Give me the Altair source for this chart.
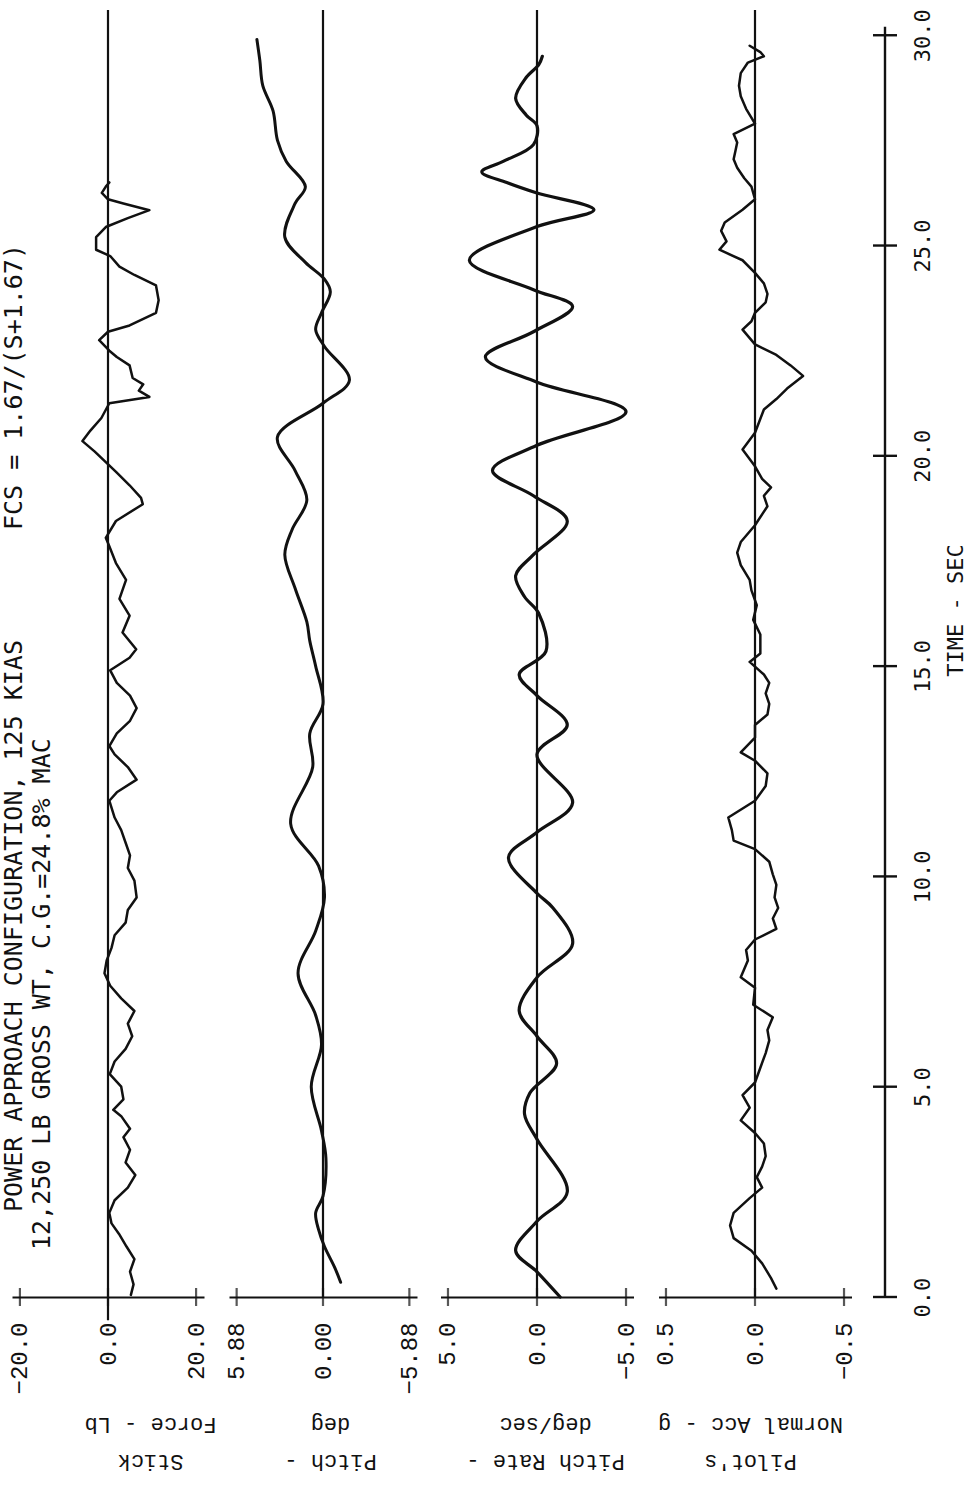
import altair as alt
import pandas as pd

# ---------------- values ----------------
time_ticks = [0, 5, 10, 15, 20, 25, 30]
stick_ticks = [-20.0, 0.0, 20.0]
pitch_ticks = [5.88, 0.0, -5.88]
rate_ticks = [5.0, 0.0, -5.0]
acc_ticks = [0.5, 0.0, -0.5]

stick_t = [0.05, 0.3, 0.6, 0.9, 1.2, 1.5, 1.75, 2.0, 2.3, 2.6, 2.9, 3.2, 3.5, 3.8, 4.0, 4.3, 4.45,
           4.7, 5.0, 5.3, 5.6, 5.9, 6.2, 6.5, 6.8, 7.1, 7.4, 7.7, 8.0, 8.3, 8.6, 8.9, 9.2, 9.5, 9.9,
           10.2, 10.5, 10.8, 11.1, 11.4, 11.8, 12.0, 12.3, 12.6, 12.9, 13.1, 13.4, 13.7, 14.0, 14.3,
           14.6, 14.9, 15.2, 15.4, 15.8, 16.2, 16.6, 17.05, 17.45, 17.85, 18.05, 18.45, 18.85, 19.0,
           19.3, 19.6, 19.85, 20.1, 20.35, 20.6, 20.9, 21.25, 21.4, 21.55, 21.7, 21.85, 22.15, 22.35,
           22.5, 22.75, 22.95, 23.1, 23.4, 23.7, 24.05, 24.3, 24.5, 24.75, 24.9, 25.2, 25.44, 25.65,
           25.84, 26.0, 26.1, 26.25, 26.4, 26.5]
stick_lb = [5.2, 5.8, 5.0, 6.0, 4.2, 2.5, 0.8, 0.3, 1.5, 4.5, 6.2, 4.0, 5.0, 3.5, 5.0, 3.0, 1.2,
            3.5, 3.0, 0.4, 1.5, 4.0, 5.5, 4.5, 6.0, 3.0, 0.5, -0.8, -0.3, 0.8, 1.5, 4.0, 4.5, 6.5, 6.0,
            4.5, 5.0, 4.0, 3.0, 1.5, 0.3, 2.0, 6.5, 4.5, 1.5, 0.3, 2.0, 5.0, 6.5, 5.0,
            2.0, 0.5, 4.9, 6.4, 3.3, 4.9, 2.6, 4.1, 1.8, 0.3, -0.5, 1.8, 7.9, 7.5,
            4.9, 2.0, -0.5, -3.0, -5.8, -4.0, -1.5, 0.3, 9.4, 7.0, 8.0, 5.6, 4.9, 2.0,
            0.3, -2.0, 0.0, 4.9, 10.9, 11.5, 10.9, 6.0, 2.6, 0.5, -2.7, -2.7, -0.5, 4.5,
            9.4, 3.5, 0.0, -1.4, -0.5, 0.3]

pitch_t = [0.35, 0.7, 1.2, 1.6, 2.0, 2.4, 3.3, 3.95, 5.0, 6.0, 6.7, 7.7, 8.7, 9.5, 10.25, 11.25,
           12.6, 13.4, 14.1, 15.0, 15.6, 16.05, 16.85, 17.65, 18.25, 18.95, 19.65, 20.45, 21.25,
           21.8, 22.6, 23.0, 23.4, 23.9, 24.2, 24.6, 25.2, 26.0, 26.4, 27.0, 27.5, 28.2, 28.8,
           29.4, 29.9]
pitch_deg = [-1.2, -0.8, -0.1, 0.3, 0.5, 0.0, -0.2, 0.1, 0.8, 0.1, 0.5, 1.7, 0.5, -0.1, 0.3, 2.2,
             0.7, 0.9, 0.0, 0.5, 0.9, 1.1, 1.9, 2.6, 2.1, 1.1, 1.9, 3.1, 0.0,
             -1.8, -0.1, 0.5, 0.1, -0.5, -0.1, 1.2, 2.6, 1.9, 1.2, 2.5, 3.1, 3.4, 4.1,
             4.3, 4.5]

rate_t = [0.0, 0.6, 1.1, 1.8, 2.5, 3.75, 4.35, 4.85, 5.55, 6.2, 6.8, 7.6, 8.4, 9.25, 9.6, 10.45,
          11.05, 11.75, 12.9, 13.6, 14.3, 14.8, 15.35, 16.25, 16.65, 17.15, 17.65, 18.45, 19.05,
          19.65, 20.25, 21.05, 21.75, 22.35, 22.95, 23.55, 23.95, 24.65, 25.45, 25.85, 26.25,
          26.5, 26.75, 27.0, 27.4, 27.85, 28.1, 28.5, 29.0, 29.3, 29.5]
rate_dps = [-1.3, 0.0, 1.2, 0.0, -1.7, 0.0, 0.7, 0.4, -1.1, 0.0, 1.0, 0.0, -2.0, -0.9, 0.0, 1.6,
            0.0, -2.0, 0.0, -1.7, 0.0, 1.0, -0.5, -0.1, 0.7, 1.2, 0.2, -1.7, 0.2,
            2.5, 0.0, -5.0, 0.0, 2.9, 0.2, -2.0, 0.2, 3.8, 0.0, -3.2, 0.0,
            1.7, 3.1, 1.9, 0.2, 0.0, 0.6, 1.2, 0.6, -0.1, -0.3]

acc_t = [0.2, 0.45, 0.8, 1.1, 1.4, 1.7, 2.0, 2.35, 2.6, 2.85,
         3.1, 3.35, 3.65, 3.9, 4.2, 4.5, 4.8, 5.1, 5.45, 5.8,
         6.1, 6.35, 6.65, 6.95, 7.35, 7.6, 8.0, 8.25, 8.5, 8.75,
         9.0, 9.25, 9.5, 9.8, 10.05, 10.35, 10.65, 10.85, 11.1, 11.4,
         11.8, 12.15, 12.45, 12.75, 12.95, 13.3, 13.6, 13.85, 14.1, 14.35,
         14.6, 14.8, 15.1, 15.3, 15.75, 16.1, 16.45, 16.8, 17.05, 17.4,
         17.7, 17.95, 18.35, 18.8, 19.05, 19.25, 19.45, 19.75, 20.15, 20.55,
         21.1, 21.35, 21.6, 21.9, 22.15, 22.4, 22.65, 23.0, 23.2, 23.4,
         23.65, 23.85, 24.1, 24.35, 24.65, 24.9, 25.1, 25.35, 25.55, 25.85,
         26.1, 26.4, 26.6, 26.85, 27.05, 27.25, 27.45, 27.65, 27.9, 28.25,
         28.55, 28.8, 29.1, 29.35, 29.5, 29.6, 29.75]
acc_g = [-0.12, -0.09, -0.04, 0.02, 0.12, 0.14, 0.12, 0.03, -0.04, -0.01,
         -0.04, -0.06, -0.05, 0.0, 0.08, 0.03, 0.07, 0.0, -0.03, -0.06,
         -0.08, -0.07, -0.10, 0.01, 0.0, 0.08, 0.04, 0.05, 0.0, -0.12,
         -0.10, -0.13, -0.11, -0.12, -0.10, -0.08, 0.0, 0.12, 0.13, 0.15,
         0.0, -0.06, -0.07, 0.0, 0.08, 0.0, 0.0, -0.07, -0.08, -0.06,
         -0.08, -0.05, 0.03, -0.03, -0.03, 0.01, -0.01, 0.02, 0.03, 0.08,
         0.10, 0.08, 0.0, -0.07, -0.05, -0.09, -0.04, 0.0, 0.07, 0.0,
         -0.05, -0.12, -0.18, -0.27, -0.20, -0.12, 0.0, 0.07, 0.02, 0.0,
         -0.06, -0.07, -0.05, 0.0, 0.07, 0.20, 0.16, 0.19, 0.17, 0.07,
         0.0, 0.02, 0.06, 0.10, 0.12, 0.11, 0.10, 0.12, 0.0, 0.05,
         0.08, 0.09, 0.08, 0.04, -0.05, -0.03, 0.03]

header_line1 = "POWER APPROACH CONFIGURATION, 125 KIAS"
header_formula = "FCS = 1.67/(S+1.67)"
header_line2 = "12,250 LB GROSS WT, C.G.=24.8% MAC"

stick_title = ["Stick", "Force - Lb"]
pitch_title = ["Pitch -", "deg"]
rate_title = ["Pitch Rate -", "deg/sec"]
acc_title = ["Pilot's", "Normal Acc - g"]
time_title = "TIME - SEC"

# ---------------- layout / style ----------------
W, H = 885, 1287
T_TOP = 30.6
T_AXIS_END = 30.2
SERIF_MONO = "Liberation Mono"
SANS_MONO = "DejaVu Sans Mono"
INK = "#111111"

ysc = alt.Scale(domain=[0, T_TOP], nice=False, zero=False)
time_axis = alt.Axis(
    orient="right", values=time_ticks, format=".1f", domain=False, ticks=False, tickSize=0,
    grid=False, labelAngle=270, labelAlign="center", labelBaseline="top", labelPadding=27,
    labelFont=SANS_MONO, labelFontSize=22, labelColor=INK, labelOverlap=False,
    title=time_title, titleAngle=270, titleAlign="center", titleBaseline="top",
    titleX=60, titleY=600, titleFont=SANS_MONO, titleFontSize=22, titleFontWeight="normal",
    titleColor=INK,
)


def Y(field):
    return alt.Y(field, scale=ysc, axis=time_axis)


def panel(t, v, ticks, dom, rng, fmt, title, title_x, interp, sw, zero_from=0.0):
    xs = alt.Scale(domain=dom, range=rng, nice=False, zero=False)
    xaxis = alt.Axis(
        orient="bottom", values=ticks, format=fmt, ticks=False, tickSize=0, grid=False,
        domainColor=INK, domainWidth=2.2, labelAngle=270, labelAlign="right",
        labelBaseline="middle", labelPadding=25, labelFont=SERIF_MONO, labelFontSize=24,
        labelColor=INK, labelOverlap=False, labelFlush=False,
        title=title, titleAngle=180, titleAlign="center", titleBaseline="alphabetic",
        titleX=title_x, titleY=157, titleLineHeight=37, titleFont=SERIF_MONO,
        titleFontSize=22, titleFontWeight="normal", titleColor=INK,
    )
    X = alt.X("v:Q", scale=xs, axis=xaxis)
    df = pd.DataFrame({"t": t, "v": v})
    line = alt.Chart(df).mark_line(color=INK, strokeWidth=sw, interpolate=interp,
                                   strokeJoin="round", strokeCap="round").encode(
        x=X, y=Y("t:Q"), order=alt.Order("t:Q")
    )
    zdf = pd.DataFrame({"v": [0.0], "t0": [zero_from], "t1": [T_TOP]})
    zero = alt.Chart(zdf).mark_rule(color=INK, strokeWidth=2.2).encode(
        x=X, y=Y("t0:Q"), y2="t1:Q"
    )
    tdf = pd.DataFrame({"v": ticks, "t": [0.0] * len(ticks)})
    tk = alt.Chart(tdf).mark_tick(orient="vertical", size=18, thickness=2.2, color=INK).encode(
        x=X, y=Y("t:Q")
    )
    return alt.layer(line, zero, tk)


p_stick = panel(stick_t, stick_lb, stick_ticks, [-21.8, 21.8], [12, 204], ".1f",
                stick_title, 150, "linear", 2.5, zero_from=-0.55)
p_pitch = panel(pitch_t, pitch_deg, pitch_ticks, [-6.4, 6.4], [417, 229], ".2f",
                pitch_title, 330, "catmull-rom", 3.0)
p_rate = panel(rate_t, rate_dps, rate_ticks, [-5.42, 5.42], [633.5, 440.5], ".1f",
               rate_title, 545, "catmull-rom", 3.2)
p_acc = panel(acc_t, acc_g, acc_ticks, [-0.542, 0.542], [851.5, 658.5], ".1f",
              acc_title, 750, "linear", 2.5)

# time axis line with cross ticks
tsc = alt.Scale(domain=[-1, 1], range=[873, 897], nice=False, zero=False)
tline = alt.Chart(pd.DataFrame({"v": [0.0], "t0": [0.0], "t1": [T_AXIS_END]})).mark_rule(
    color=INK, strokeWidth=2.4
).encode(x=alt.X("v:Q", scale=tsc, axis=None), y=Y("t0:Q"), y2="t1:Q")
tcross = alt.Chart(pd.DataFrame({"a": [-1.0] * len(time_ticks), "b": [1.0] * len(time_ticks),
                                 "t": time_ticks})).mark_rule(color=INK, strokeWidth=2.4).encode(
    x=alt.X("a:Q", scale=tsc, axis=None), x2="b:Q", y=Y("t:Q")
)
time_layer = alt.layer(tline, tcross)


def header(text, x, y):
    return alt.Chart(pd.DataFrame({"s": [text]})).mark_text(
        x=x, y=y, angle=270, align="left", baseline="alphabetic",
        font=SANS_MONO, fontSize=25, color=INK
    ).encode(text="s:N")


h1 = header(header_line1, 22, 1202)
h2 = header(header_formula, 22, 520)
h3 = header(header_line2, 50, 1240)

chart = alt.layer(p_stick, p_pitch, p_rate, p_acc, time_layer, h1, h2, h3).resolve_scale(
    x="independent"
).properties(
    width=W, height=H,
    autosize=alt.AutoSizeParams(type="none"),
    padding={"left": 0, "top": 10, "right": 88, "bottom": 191},
    background="white",
).configure_view(stroke=None)

chart.save("out.html", embed_options={"renderer": "svg", "actions": False})
